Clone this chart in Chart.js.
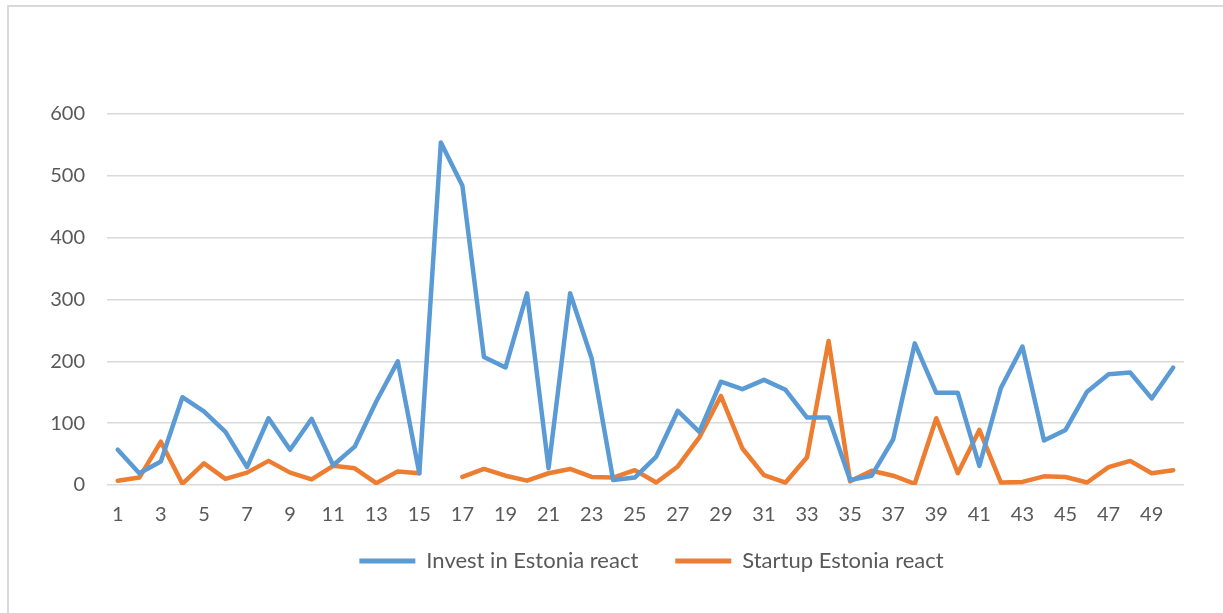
<!DOCTYPE html>
<html>
<head>
<meta charset="utf-8">
<script src="https://cdn.jsdelivr.net/npm/chart.js@4/dist/chart.umd.min.js"></script>
<style>
  html, body { margin: 0; padding: 0; background: #fff; }
  #wrap { position: relative; width: 1223px; height: 613px; overflow: hidden; }
  #frame { position: absolute; left: 7px; top: 5px; width: 1300px; height: 700px;
           border-top: 2px solid #d9d9d9; border-left: 2px solid #d9d9d9; box-sizing: border-box; }
  canvas { position: absolute; left: 0; top: 0; }
</style>
</head>
<body>
<div id="wrap">
  <div id="frame"></div>
  <canvas id="c" width="1223" height="613"></canvas>
</div>
<script>
const categories = Array.from({length: 50}, (_, i) => String(i + 1));
const investValues = [57,19,38,142,119,86,29,108,57,107,
                      32,62,135,200,19,554,484,207,190,310,
                      27,310,205,8,12,46,120,86,167,155,
                      170,154,109,109,8,15,74,229,149,149,
                      31,157,224,72,89,151,179,182,140,190];
const startupValues = [7,12,70,2,35,10,20,39,20,9,
                       31,27,3,22,19,null,13,26,15,7,
                       19,26,13,12,24,4,30,77,144,59,
                       16,4,45,233,6,23,15,2,108,19,
                       89,4,5,14,13,4,29,39,19,24];
const seriesNames = ["Invest in Estonia react", "Startup Estonia react"];
const yTicks = [0, 100, 200, 300, 400, 500, 600];

const FONT = "Lato, 'Open Sans', sans-serif";
const TEXT = "#595959";

const legendShift = {
  id: 'legendShift',
  afterLayout(chart) {
    const lg = chart.legend;
    if (lg) { lg.left += 36; lg.right += 36; lg.top -= 18; lg.bottom -= 18; }
  }
};

new Chart(document.getElementById('c'), {
  type: 'line',
  data: {
    labels: categories,
    datasets: [
      { label: seriesNames[0], data: investValues, borderColor: '#5B9BD5', backgroundColor: '#5B9BD5',
        borderWidth: 4.5, pointRadius: 0, pointHoverRadius: 0, tension: 0,
        borderCapStyle: 'round', borderJoinStyle: 'round', spanGaps: false },
      { label: seriesNames[1], data: startupValues, borderColor: '#ED7D31', backgroundColor: '#ED7D31',
        borderWidth: 4.5, pointRadius: 0, pointHoverRadius: 0, tension: 0,
        borderCapStyle: 'round', borderJoinStyle: 'round', spanGaps: false }
    ]
  },
  options: {
    responsive: false,
    animation: false,
    layout: { padding: { left: 47, right: 39, top: 114, bottom: 13 } },
    plugins: {
      tooltip: { enabled: false },
      legend: {
        position: 'bottom',
        labels: {
          boxWidth: 56, boxHeight: 5, padding: 37,
          color: TEXT, font: { family: FONT, size: 22 },
          generateLabels(chart) {
            return chart.data.datasets.map((d, i) => ({
              text: d.label, fillStyle: d.borderColor, strokeStyle: d.borderColor,
              lineWidth: 0, hidden: false, datasetIndex: i, fontColor: TEXT
            }));
          }
        }
      }
    },
    scales: {
      x: {
        offset: true,
        grid: { display: false, drawTicks: false },
        border: { display: false },
        ticks: {
          autoSkip: false, maxRotation: 0, padding: 18, color: TEXT,
          font: { family: FONT, size: 20 },
          callback(v, i) { return i % 2 === 0 ? categories[i] : ''; }
        },
        afterFit(s) { s.height = 46; }
      },
      y: {
        min: yTicks[0], max: yTicks[yTicks.length - 1],
        grid: { color: '#d9d9d9', lineWidth: 1.5, drawTicks: false },
        border: { display: false },
        afterBuildTicks(s) { s.ticks = yTicks.map(v => ({ value: v })); },
        ticks: { padding: 22, color: TEXT, font: { family: FONT, size: 20 } },
        afterFit(s) { s.width = 60; }
      }
    }
  },
  plugins: [legendShift]
});
</script>
</body>
</html>
